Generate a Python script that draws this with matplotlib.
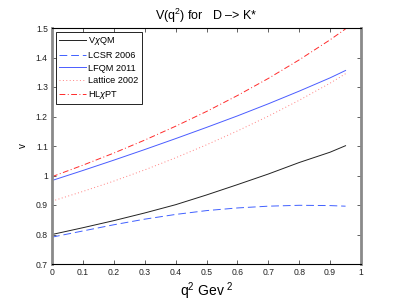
import matplotlib
matplotlib.use('Agg')
import matplotlib.pyplot as plt
import numpy as np

plt.rcParams['font.family'] = ['Liberation Sans', 'DejaVu Sans']
plt.rcParams['mathtext.fontset'] = 'custom'
plt.rcParams['mathtext.rm'] = 'Liberation Sans'
plt.rcParams['mathtext.it'] = 'Liberation Sans:italic'

# q^2 sample points (GeV^2)
q2 = [0.0, 0.1, 0.2, 0.3, 0.4, 0.5, 0.6, 0.7, 0.8, 0.9, 0.95]

# form factor V(q^2)
v_chiqm   = [0.800, 0.823, 0.847, 0.873, 0.901, 0.934, 0.969, 1.005, 1.044, 1.079, 1.101]
v_lcsr    = [0.791, 0.812, 0.833, 0.852, 0.868, 0.881, 0.890, 0.896, 0.899, 0.898, 0.896]
v_lfqm    = [0.983, 1.017, 1.052, 1.088, 1.125, 1.163, 1.202, 1.243, 1.286, 1.331, 1.356]
v_lattice = [0.913, 0.946, 0.981, 1.019, 1.060, 1.104, 1.151, 1.201, 1.255, 1.313, 1.345]
v_hlchipt = [0.996, 1.035, 1.076, 1.120, 1.167, 1.217, 1.271, 1.329, 1.392, 1.460, 1.497]

labels = ['V$\\chi$QM', 'LCSR 2006', 'LFQM 2011', 'Lattice 2002', 'HL$\\chi$PT']

xticks = [0, 0.1, 0.2, 0.3, 0.4, 0.5, 0.6, 0.7, 0.8, 0.9, 1]
xticklabels = ['0', '0.1', '0.2', '0.3', '0.4', '0.5', '0.6', '0.7', '0.8', '0.9', '1']
yticks = [0.7, 0.8, 0.9, 1.0, 1.1, 1.2, 1.3, 1.4, 1.5]
yticklabels = ['0.7', '0.8', '0.9', '1', '1.1', '1.2', '1.3', '1.4', '1.5']

fig = plt.figure(figsize=(3.99, 3.0), dpi=100)
ax = fig.add_axes([52/399, 1-264/300, (361-52)/399, (264-28)/300])

lw = 0.7
ax.plot(q2, v_chiqm, color='#222222', ls='-', lw=lw, label=labels[0])
ax.plot(q2, v_lcsr, color='#4060ff', ls=(0, (8, 4)), lw=lw, label=labels[1])
ax.plot(q2, v_lfqm, color='#4a5cff', ls='-', lw=lw, label=labels[2])
ax.plot(q2, v_lattice, color='#ff8080', ls=(0, (1, 2.5)), lw=lw, label=labels[3])
ax.plot(q2, v_hlchipt, color='#ff2a2a', ls=(0, (6, 2.5, 1, 2.5)), lw=lw, label=labels[4])

ax.set_xlim(0, 1)
ax.set_ylim(0.7, 1.5)
ax.set_xticks(xticks)
ax.set_xticklabels(xticklabels)
ax.set_yticks(yticks)
ax.set_yticklabels(yticklabels)
ax.tick_params(direction='in', length=3, width=0.5, labelsize=6.2,
               top=True, right=True, pad=3, colors='#222222')

for s in ['top', 'bottom']:
    ax.spines[s].set_linewidth(0.8)
    ax.spines[s].set_color('black')
for s in ['left', 'right']:
    ax.spines[s].set_linewidth(2.0)
    ax.spines[s].set_color('#8a8a8a')

ax.set_title('V(q$^2$) for   D \u2013> K*', fontsize=9, pad=6)
ax.set_xlabel('q$^2$ Gev $^2$', fontsize=10, labelpad=2)
ax.set_ylabel('v', fontsize=7, labelpad=6)

leg = ax.legend(loc='upper left', bbox_to_anchor=(4/309, 1-4/236), fontsize=6.6,
                frameon=True, fancybox=False, edgecolor='black', framealpha=1,
                handlelength=2.9, handletextpad=0.25, labelspacing=0.4,
                borderpad=0.35, borderaxespad=0)
leg.get_frame().set_linewidth(0.6)

fig.savefig('out.png', dpi=100)
